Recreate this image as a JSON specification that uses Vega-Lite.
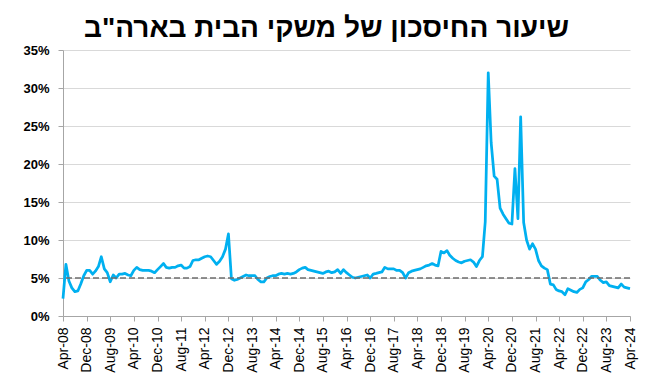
{
  "$schema": "https://vega.github.io/schema/vega-lite/v6.json",
  "autosize": {"type": "none"},
  "width": 567,
  "height": 266,
  "padding": {"left": 63, "top": 50, "right": 30, "bottom": 74},
  "background": "white",
  "title": {
    "text": "שיעור החיסכון של משקי הבית בארה\"ב",
    "font": "Arial, Liberation Sans, DejaVu Sans",
    "fontSize": 28,
    "fontWeight": "bold",
    "color": "#000000",
    "anchor": "middle",
    "dx": -20,
    "offset": 1
  },
  "config": {
    "view": {"stroke": null},
    "font": "Arial, Liberation Sans, DejaVu Sans"
  },
  "encoding": {
    "y": {
      "field": "v",
      "type": "quantitative",
      "scale": {"domain": [0, 35], "nice": false},
      "axis": {
        "title": null,
        "values": [0, 5, 10, 15, 20, 25, 30, 35],
        "labelExpr": "datum.value + '%'",
        "labelFont": "Arial, Liberation Sans, DejaVu Sans",
        "labelFontSize": 13,
        "labelFontWeight": "bold",
        "labelColor": "#000000",
        "labelPadding": 9,
        "labelOverlap": false,
        "labelFlush": false,
        "gridColor": "#d9d9d9",
        "gridWidth": 1,
        "domainColor": "#a6a6a6",
        "tickColor": "#a6a6a6",
        "tickSize": 5
      }
    }
  },
  "layer": [
    {
      "data": {
        "values": [
          {"m":"2008-04","v":2.3},{"m":"2008-05","v":6.8},{"m":"2008-06","v":4.6},{"m":"2008-07","v":3.7},{"m":"2008-08","v":3.2},{"m":"2008-09","v":3.3},{"m":"2008-10","v":4.2},{"m":"2008-11","v":5.3},{"m":"2008-12","v":6.0},
          {"m":"2009-01","v":6.0},{"m":"2009-02","v":5.5},{"m":"2009-03","v":5.9},{"m":"2009-04","v":6.5},{"m":"2009-05","v":7.8},{"m":"2009-06","v":6.2},{"m":"2009-07","v":5.7},{"m":"2009-08","v":4.5},{"m":"2009-09","v":5.4},{"m":"2009-10","v":5.0},{"m":"2009-11","v":5.5},{"m":"2009-12","v":5.5},
          {"m":"2010-01","v":5.6},{"m":"2010-02","v":5.4},{"m":"2010-03","v":5.3},{"m":"2010-04","v":6.0},{"m":"2010-05","v":6.4},{"m":"2010-06","v":6.1},{"m":"2010-07","v":6.0},{"m":"2010-08","v":6.0},{"m":"2010-09","v":6.0},{"m":"2010-10","v":5.9},{"m":"2010-11","v":5.7},{"m":"2010-12","v":6.1},
          {"m":"2011-01","v":6.5},{"m":"2011-02","v":6.9},{"m":"2011-03","v":6.4},{"m":"2011-04","v":6.3},{"m":"2011-05","v":6.4},{"m":"2011-06","v":6.4},{"m":"2011-07","v":6.6},{"m":"2011-08","v":6.7},{"m":"2011-09","v":6.3},{"m":"2011-10","v":6.3},{"m":"2011-11","v":6.5},{"m":"2011-12","v":7.3},
          {"m":"2012-01","v":7.4},{"m":"2012-02","v":7.4},{"m":"2012-03","v":7.6},{"m":"2012-04","v":7.8},{"m":"2012-05","v":7.9},{"m":"2012-06","v":7.8},{"m":"2012-07","v":7.3},{"m":"2012-08","v":6.8},{"m":"2012-09","v":7.2},{"m":"2012-10","v":7.8},{"m":"2012-11","v":8.8},{"m":"2012-12","v":10.8},
          {"m":"2013-01","v":4.9},{"m":"2013-02","v":4.7},{"m":"2013-03","v":4.8},{"m":"2013-04","v":5.0},{"m":"2013-05","v":5.2},{"m":"2013-06","v":5.4},{"m":"2013-07","v":5.3},{"m":"2013-08","v":5.3},{"m":"2013-09","v":5.3},{"m":"2013-10","v":4.8},{"m":"2013-11","v":4.5},{"m":"2013-12","v":4.5},
          {"m":"2014-01","v":5.0},{"m":"2014-02","v":5.2},{"m":"2014-03","v":5.3},{"m":"2014-04","v":5.3},{"m":"2014-05","v":5.5},{"m":"2014-06","v":5.6},{"m":"2014-07","v":5.5},{"m":"2014-08","v":5.6},{"m":"2014-09","v":5.5},{"m":"2014-10","v":5.6},{"m":"2014-11","v":5.8},{"m":"2014-12","v":6.1},
          {"m":"2015-01","v":6.3},{"m":"2015-02","v":6.4},{"m":"2015-03","v":6.1},{"m":"2015-04","v":6.0},{"m":"2015-05","v":5.9},{"m":"2015-06","v":5.8},{"m":"2015-07","v":5.7},{"m":"2015-08","v":5.6},{"m":"2015-09","v":5.8},{"m":"2015-10","v":5.9},{"m":"2015-11","v":5.7},{"m":"2015-12","v":5.8},
          {"m":"2016-01","v":6.1},{"m":"2016-02","v":5.6},{"m":"2016-03","v":6.1},{"m":"2016-04","v":5.7},{"m":"2016-05","v":5.4},{"m":"2016-06","v":5.1},{"m":"2016-07","v":5.0},{"m":"2016-08","v":5.1},{"m":"2016-09","v":5.2},{"m":"2016-10","v":5.3},{"m":"2016-11","v":5.4},{"m":"2016-12","v":5.0},
          {"m":"2017-01","v":5.5},{"m":"2017-02","v":5.6},{"m":"2017-03","v":5.7},{"m":"2017-04","v":5.8},{"m":"2017-05","v":6.4},{"m":"2017-06","v":6.2},{"m":"2017-07","v":6.2},{"m":"2017-08","v":6.2},{"m":"2017-09","v":6.0},{"m":"2017-10","v":6.0},{"m":"2017-11","v":5.7},{"m":"2017-12","v":5.0},
          {"m":"2018-01","v":5.7},{"m":"2018-02","v":5.9},{"m":"2018-03","v":6.0},{"m":"2018-04","v":6.1},{"m":"2018-05","v":6.2},{"m":"2018-06","v":6.4},{"m":"2018-07","v":6.6},{"m":"2018-08","v":6.7},{"m":"2018-09","v":6.9},{"m":"2018-10","v":6.7},{"m":"2018-11","v":6.6},{"m":"2018-12","v":8.5},
          {"m":"2019-01","v":8.3},{"m":"2019-02","v":8.6},{"m":"2019-03","v":8.0},{"m":"2019-04","v":7.6},{"m":"2019-05","v":7.3},{"m":"2019-06","v":7.1},{"m":"2019-07","v":7.0},{"m":"2019-08","v":7.2},{"m":"2019-09","v":7.3},{"m":"2019-10","v":7.4},{"m":"2019-11","v":7.1},{"m":"2019-12","v":6.5},
          {"m":"2020-01","v":7.3},{"m":"2020-02","v":7.8},{"m":"2020-03","v":12.4},{"m":"2020-04","v":32.0},{"m":"2020-05","v":22.8},{"m":"2020-06","v":18.4},{"m":"2020-07","v":18.0},{"m":"2020-08","v":14.2},{"m":"2020-09","v":13.4},{"m":"2020-10","v":12.8},{"m":"2020-11","v":12.2},{"m":"2020-12","v":12.1},
          {"m":"2021-01","v":19.4},{"m":"2021-02","v":12.8},{"m":"2021-03","v":26.2},{"m":"2021-04","v":12.3},{"m":"2021-05","v":10.0},{"m":"2021-06","v":8.8},{"m":"2021-07","v":9.5},{"m":"2021-08","v":8.8},{"m":"2021-09","v":7.3},{"m":"2021-10","v":6.6},{"m":"2021-11","v":6.3},{"m":"2021-12","v":6.1},
          {"m":"2022-01","v":4.2},{"m":"2022-02","v":4.1},{"m":"2022-03","v":3.5},{"m":"2022-04","v":3.3},{"m":"2022-05","v":3.2},{"m":"2022-06","v":2.8},{"m":"2022-07","v":3.6},{"m":"2022-08","v":3.4},{"m":"2022-09","v":3.2},{"m":"2022-10","v":3.1},{"m":"2022-11","v":3.5},{"m":"2022-12","v":3.7},
          {"m":"2023-01","v":4.5},{"m":"2023-02","v":4.8},{"m":"2023-03","v":5.2},{"m":"2023-04","v":5.2},{"m":"2023-05","v":5.2},{"m":"2023-06","v":4.7},{"m":"2023-07","v":4.4},{"m":"2023-08","v":4.5},{"m":"2023-09","v":4.0},{"m":"2023-10","v":3.9},{"m":"2023-11","v":3.8},{"m":"2023-12","v":3.7},
          {"m":"2024-01","v":4.2},{"m":"2024-02","v":3.8},{"m":"2024-03","v":3.7},{"m":"2024-04","v":3.6}
        ],
        "format": {"parse": {"m": "utc:'%Y-%m'"}}
      },
      "mark": {"type": "line", "color": "#00B0F0", "strokeWidth": 2.75, "strokeJoin": "round"},
      "encoding": {
        "x": {
          "field": "m",
          "type": "temporal",
          "scale": {
            "type": "utc",
            "domain": [{"year": 2008, "month": 4, "date": 1, "utc": true}, {"year": 2024, "month": 4, "date": 1, "utc": true}]
          },
          "axis": {
            "title": null,
            "format": "%b-%y",
            "values": [
              {"year": 2008, "month": 4, "date": 1, "utc": true},
              {"year": 2008, "month": 12, "date": 1, "utc": true},
              {"year": 2009, "month": 8, "date": 1, "utc": true},
              {"year": 2010, "month": 4, "date": 1, "utc": true},
              {"year": 2010, "month": 12, "date": 1, "utc": true},
              {"year": 2011, "month": 8, "date": 1, "utc": true},
              {"year": 2012, "month": 4, "date": 1, "utc": true},
              {"year": 2012, "month": 12, "date": 1, "utc": true},
              {"year": 2013, "month": 8, "date": 1, "utc": true},
              {"year": 2014, "month": 4, "date": 1, "utc": true},
              {"year": 2014, "month": 12, "date": 1, "utc": true},
              {"year": 2015, "month": 8, "date": 1, "utc": true},
              {"year": 2016, "month": 4, "date": 1, "utc": true},
              {"year": 2016, "month": 12, "date": 1, "utc": true},
              {"year": 2017, "month": 8, "date": 1, "utc": true},
              {"year": 2018, "month": 4, "date": 1, "utc": true},
              {"year": 2018, "month": 12, "date": 1, "utc": true},
              {"year": 2019, "month": 8, "date": 1, "utc": true},
              {"year": 2020, "month": 4, "date": 1, "utc": true},
              {"year": 2020, "month": 12, "date": 1, "utc": true},
              {"year": 2021, "month": 8, "date": 1, "utc": true},
              {"year": 2022, "month": 4, "date": 1, "utc": true},
              {"year": 2022, "month": 12, "date": 1, "utc": true},
              {"year": 2023, "month": 8, "date": 1, "utc": true},
              {"year": 2024, "month": 4, "date": 1, "utc": true}
            ],
            "labelAngle": -90,
            "labelAlign": "right",
            "labelBaseline": "middle",
            "labelFont": "Arial, Liberation Sans, DejaVu Sans",
            "labelFontSize": 14,
            "labelColor": "#000000",
            "labelPadding": 6,
            "labelOverlap": false,
            "labelFlush": false,
            "grid": false,
            "domainColor": "#a6a6a6",
            "tickColor": "#a6a6a6",
            "tickSize": 5
          }
        }
      }
    },
    {
      "data": {"values": [{"v": 5}]},
      "mark": {"type": "rule", "color": "#6e6e6e", "strokeWidth": 1.5, "strokeDash": [6, 3]},
      "encoding": {}
    }
  ]
}
